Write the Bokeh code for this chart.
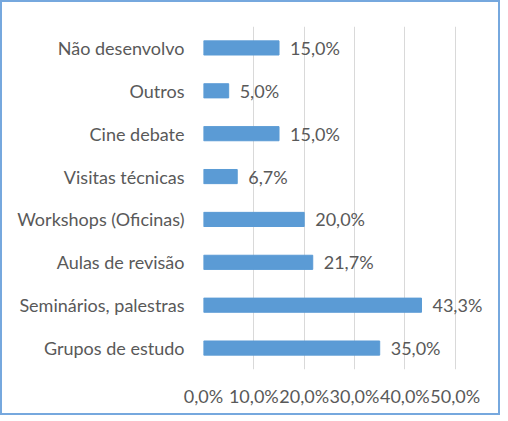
# Atividades desenvolvidas - horizontal bar chart

from bokeh.core.properties import value
from bokeh.embed import file_html
from bokeh.models import ColumnDataSource, FixedTicker, LabelSet
from bokeh.plotting import figure
from bokeh.resources import INLINE

# Data (bottom to top, as drawn)
categories = [
    "Grupos de estudo",
    "Seminários, palestras",
    "Aulas de revisão",
    "Workshops (Oficinas)",
    "Visitas técnicas",
    "Cine debate",
    "Outros",
    "Não desenvolvo",
]
values = [35.0, 43.3, 21.7, 20.0, 6.7, 15.0, 5.0, 15.0]
tick_values = [0, 10, 20, 30, 40, 50]
tick_labels = ["0,0%", "10,0%", "20,0%", "30,0%", "40,0%", "50,0%"]

FONT = "Lato"
FONT_SIZE = "18px"
TEXT_COLOR = "#595959"
GRID_COLOR = "#D9D9D9"
BAR_COLOR = "#5B9BD5"

src = ColumnDataSource(dict(
    cat=categories,
    val=values,
    label=[f"{v:.1f}%".replace(".", ",") for v in values],
))

# frame runs a bit past 50% so the value labels are not clipped;
# only the 0..50 ticks get grid lines
p = figure(
    y_range=categories,
    x_range=(0, 58),
    width=500,
    height=415,
    output_backend="svg",
    toolbar_location=None,
    min_border_left=201,
    min_border_right=7,
    min_border_top=24,
    min_border_bottom=48,
)
# border is drawn outside the canvas
p.styles = {"border": "2px solid #76A8DE"}
p.outline_line_color = None

p.hbar(y="cat", right="val", left=0, height=0.33, color=BAR_COLOR, source=src)

labels = LabelSet(
    x="val", y="cat", text="label", source=src,
    x_offset=11, text_baseline="middle",
    text_font=value(FONT), text_font_size=FONT_SIZE, text_color=TEXT_COLOR,
)
p.add_layout(labels)

# Axes
p.xaxis.ticker = FixedTicker(ticks=tick_values)
p.xaxis.major_label_overrides = dict(zip(tick_values, tick_labels))
p.xaxis.axis_line_color = None
p.xaxis.major_label_standoff = 15
p.yaxis.axis_line_color = None
p.yaxis.major_label_standoff = 19
p.axis.major_tick_line_color = None
p.axis.minor_tick_line_color = None
p.axis.major_tick_out = 0
p.axis.major_tick_in = 0
p.axis.major_label_text_font = FONT
p.axis.major_label_text_font_size = FONT_SIZE
p.axis.major_label_text_color = TEXT_COLOR

# Grid
p.xgrid.grid_line_color = GRID_COLOR
p.ygrid.grid_line_color = None

open("out.html", "w").write(file_html(p, INLINE))
